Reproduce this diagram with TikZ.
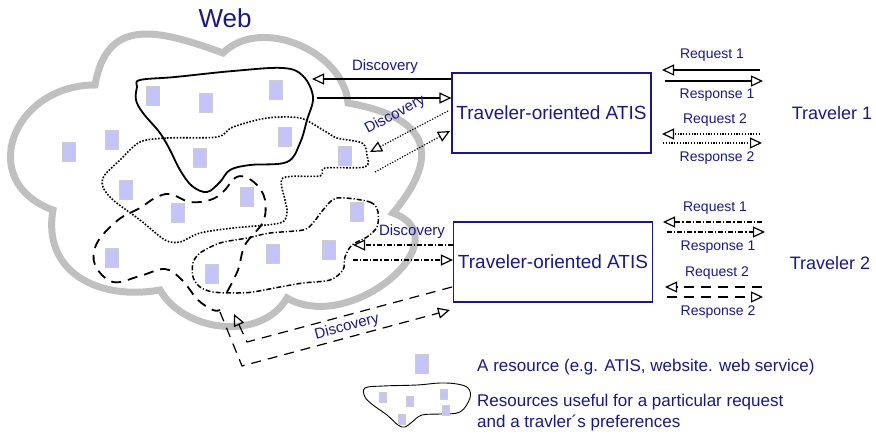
\documentclass[tikz,border=0pt]{standalone}
\usepackage{fontspec}
\setmainfont{Liberation Sans}
\usetikzlibrary{arrows.meta}
\definecolor{atisblue}{RGB}{24,24,138}
\definecolor{resfill}{RGB}{196,196,250}
\definecolor{cloudgray}{RGB}{192,192,192}

\begin{document}
\begin{tikzpicture}[
  x=1pt, y=1pt,
  res/.style={draw=black!20, fill=resfill, minimum width=13pt,
              minimum height=19pt, inner sep=0pt},
  minires/.style={res, minimum width=7pt, minimum height=10pt},
  atis/.style={draw=atisblue, line width=1.2pt, minimum width=199pt,
               minimum height=80pt, text=atisblue,
               font=\fontsize{19}{22}\selectfont, inner sep=0pt},
  lbl/.style={text=atisblue, font=\fontsize{14}{16}\selectfont, inner sep=0pt},
  disc/.style={text=atisblue, font=\fontsize{15}{17}\selectfont, inner sep=0pt},
  trav/.style={text=atisblue, font=\fontsize{18}{21}\selectfont, inner sep=0pt},
  legtext/.style={text=atisblue, font=\fontsize{17}{21}\selectfont,
                  inner sep=0pt, align=left, anchor=west},
  arr/.style={-{Triangle[open, length=12pt, width=11pt]}, line width=1.2pt},
  dotln/.style={line width=1.2pt, dash pattern=on 1.2pt off 1.6pt},
  blobdot/.style={line width=1.6pt, dash pattern=on 1.6pt off 1.6pt},
  dashdotln/.style={line width=1.2pt, dash pattern=on 5pt off 2pt on 1.2pt off 2pt},
  dashln/.style={line width=1.2pt, dash pattern=on 10pt off 7pt},
  cloud/.style={draw=cloudgray, line width=7pt}
]
\useasboundingbox (0,0) rectangle (876,-434);

% ── The web cloud ──
\draw[cloud] (95,-85) to[out=80,in=160,looseness=1.35] (223,-53)
  to[out=45,in=95] (348,-103)
  to[out=-10,in=50,looseness=1.7] (393,-213)
  to[out=-20,in=-30,looseness=1.4] (287,-298)
  to[out=-120,in=-60] (160,-290)
  to[out=-170,in=-100,looseness=1.2] (53,-210)
  to[out=160,in=180,looseness=1.6] (95,-85) -- cycle;
\node[text=atisblue, font=\fontsize{26}{30}\selectfont] (web) at (225,-18) {Web};

% ── Resources ──
\node[res] (r1) at (153,-96) {};
\node[res] (r2) at (206,-103) {};
\node[res] (r3) at (276,-90) {};
\node[res] (r4) at (285,-137) {};
\node[res] (r5) at (69,-152) {};
\node[res] (r6) at (112,-140) {};
\node[res] (r7) at (200,-158) {};
\node[res] (r8) at (345,-156) {};
\node[res] (r9) at (126,-190) {};
\node[res] (r10) at (247,-197) {};
\node[res] (r11) at (178,-213) {};
\node[res] (r12) at (357,-212) {};
\node[res] (r13) at (112,-258) {};
\node[res] (r14) at (273,-254) {};
\node[res] (r15) at (329,-250) {};
\node[res] (r16) at (212,-274) {};

% ── Useful resource sets ──
\draw[line width=1.8pt] plot[smooth cycle, tension=0.6] coordinates {
  (140,-80) (175,-77) (233,-71) (283,-68) (303,-76) (313,-97) (307,-120)
  (300,-143) (287,-162) (250,-165) (230,-170) (220,-182) (207,-192)
  (192,-186) (180,-170) (170,-150) (160,-133) (143,-113) (136,-100) (137,-87)};
\draw[blobdot] plot[smooth cycle, tension=0.5] coordinates {
  (140,-142) (167,-138) (217,-137) (233,-127) (267,-118) (300,-118)
  (323,-130) (337,-138) (362,-143) (367,-155) (365,-167) (325,-168)
  (320,-176) (283,-178) (285,-200) (287,-212) (280,-223) (233,-228)
  (200,-233) (180,-242) (165,-240) (140,-220) (113,-200) (103,-187)
  (104,-176) (120,-160)};
\draw[dashln, line width=1.8pt] plot[smooth, tension=0.6] coordinates {
  (227,-292) (238,-270) (245,-245) (263,-222) (265,-200) (257,-185)
  (245,-177) (235,-178) (223,-192) (210,-200) (190,-202) (170,-194)
  (155,-198) (140,-208) (118,-220) (97,-243) (95,-265) (113,-282)
  (140,-276) (165,-269) (182,-280) (198,-300) (213,-310) (220,-310)};
\draw[dashdotln, line width=1.5pt] plot[smooth cycle, tension=0.5] coordinates {
  (337,-198) (370,-202) (378,-212) (377,-227) (367,-237) (352,-245)
  (345,-257) (343,-270) (330,-280) (303,-283) (280,-287) (253,-292)
  (237,-293) (213,-292) (200,-287) (193,-277) (193,-263) (200,-253)
  (220,-243) (247,-238) (270,-233) (303,-230) (313,-223) (323,-210)};

% ── ATIS boxes ──
\node[atis] (atis1) at (551.5,-113) {Traveler-oriented ATIS};
\node[atis] (atis2) at (553,-262) {Traveler-oriented ATIS};

% ── Discovery, solid ──
\coordinate (s1in) at (312,-79);
\coordinate (s1out) at (317,-98);
\draw[arr] (atis1.west |- s1in) -- (s1in);
\draw[arr] (s1out) -- (atis1.west |- s1out);
\node[disc] (disc1) at (385,-67) {Discovery};

% ── Discovery, dotted ──
\coordinate (p1src) at (448,-111);
\coordinate (p1in) at (370,-152);
\coordinate (p1out) at (375,-172);
\coordinate (p1dst) at (450,-131);
\draw[arr, dotln] (p1src) -- (p1in);
\draw[arr, dotln] (p1out) -- (p1dst);
\node[disc, rotate=28] (disc2) at (395,-115) {Discovery};

% ── Discovery, dash-dotted ──
\coordinate (q1in) at (353,-245);
\coordinate (q1out) at (353,-260);
\draw[arr, dashdotln] (atis2.west |- q1in) -- (q1in);
\draw[arr, dashdotln] (q1out) -- (atis2.west |- q1out);
\node[disc] (disc3) at (412,-232) {Discovery};

% ── Discovery, dashed ──
\coordinate (d1src) at (452,-287);
\coordinate (d1bend) at (247,-342);
\coordinate (d1in) at (234,-314);
\coordinate (d1out) at (220,-312);
\coordinate (d1turn) at (242,-366);
\coordinate (d1dst) at (450,-310);
\draw[arr, dashln] (d1src) -- (d1bend) -- (d1in);
\draw[arr, dashln] (d1out) -- (d1turn) -- (d1dst);
\node[disc, rotate=15] (disc4) at (347,-327) {Discovery};

% ── Traveler 1 ──
\node[trav] (trav1) at (832,-113) {Traveler 1};
\coordinate (t1a) at (760,-70);  \coordinate (t1b) at (662,-70);
\coordinate (t1c) at (665,-81);  \coordinate (t1d) at (763,-81);
\draw[arr] (t1a) -- (t1b);
\draw[arr] (t1c) -- (t1d);
\node[lbl] (req11) at (712,-55) {Request 1};
\node[lbl] (res11) at (717,-95) {Response 1};
\coordinate (t1e) at (760,-134); \coordinate (t1f) at (662,-134);
\coordinate (t1g) at (663,-143); \coordinate (t1h) at (762,-143);
\draw[arr, dotln] (t1e) -- (t1f);
\draw[arr, dotln] (t1g) -- (t1h);
\node[lbl] (req12) at (715,-120) {Request 2};
\node[lbl] (res12) at (717,-158) {Response 2};

% ── Traveler 2 ──
\node[trav] (trav2) at (830,-263) {Traveler 2};
\coordinate (t2a) at (762,-222); \coordinate (t2b) at (663,-222);
\coordinate (t2c) at (667,-232); \coordinate (t2d) at (765,-232);
\draw[arr, dashdotln] (t2a) -- (t2b);
\draw[arr, dashdotln] (t2c) -- (t2d);
\node[lbl] (req21) at (715,-208) {Request 1};
\node[lbl] (res21) at (718,-247) {Response 1};
\coordinate (t2e) at (762,-287); \coordinate (t2f) at (665,-287);
\coordinate (t2g) at (667,-297); \coordinate (t2h) at (763,-297);
\draw[arr, dashln] (t2e) -- (t2f);
\draw[arr, dashln] (t2g) -- (t2h);
\node[lbl] (req22) at (717,-273) {Request 2};
\node[lbl] (res22) at (718,-312) {Response 2};

% ── Legend ──
\node[res] (legres) at (422,-364) {};
\node[legtext] (leg1) at (477,-367) {A resource (e.g. ATIS, website. web service)};
\draw[line width=0.9pt] plot[smooth cycle, tension=0.6] coordinates {
  (365,-388) (383,-386) (417,-385) (440,-383) (457,-384) (468,-388)
  (470,-398) (460,-412) (440,-414) (422,-415) (412,-422) (405,-427)
  (398,-425) (387,-415) (373,-405) (365,-397)};
\node[minires] (legr1) at (383,-397) {};
\node[minires] (legr2) at (410,-401) {};
\node[minires] (legr3) at (444,-394) {};
\node[minires] (legr4) at (446,-410) {};
\node[minires] (legr5) at (402,-419) {};
\node[legtext] (leg2) at (477,-412.5)
  {Resources useful for a particular request\\and a travler´s preferences};

\end{tikzpicture}
\end{document}
